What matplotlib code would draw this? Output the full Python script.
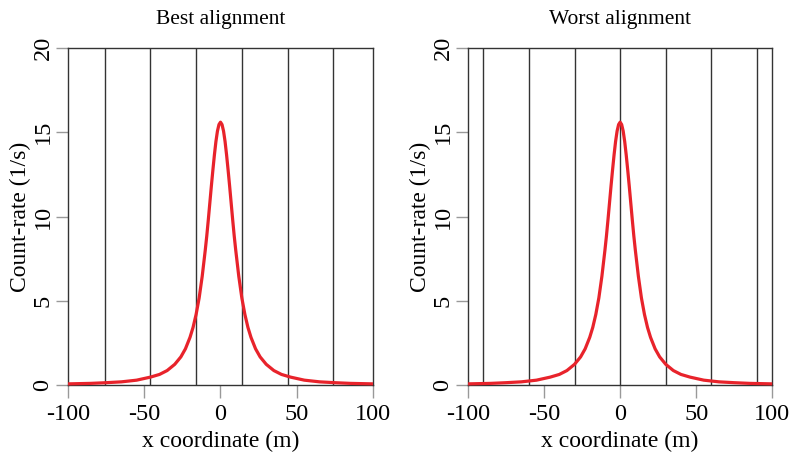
import matplotlib
matplotlib.use("Agg")
import matplotlib.pyplot as plt

# Count-rate curve (same curve in both panels)
x_coord = [-100, -85, -75, -65, -55, -46, -40, -35, -30, -26, -23, -20, -18, -16, -14,
           -12, -10, -9, -8, -7, -6, -5, -4, -3, -2, -1, 0,
           1, 2, 3, 4, 5, 6, 7, 8, 9, 10, 12, 14, 16, 18, 20, 23, 26, 30, 35, 40,
           46, 55, 65, 75, 85, 100]
count_rate = [0.07, 0.10, 0.14, 0.19, 0.29, 0.47, 0.63, 0.86, 1.23, 1.67, 2.15, 2.83, 3.42, 4.19, 5.17,
              6.45, 8.0, 8.85, 9.8, 10.8, 11.8, 12.75, 13.65, 14.45, 15.07, 15.46, 15.6,
              15.46, 15.07, 14.45, 13.65, 12.75, 11.8, 10.8, 9.8, 8.85, 8.0, 6.45, 5.17, 4.19, 3.42,
              2.83, 2.15, 1.67, 1.23, 0.86, 0.63, 0.47, 0.29, 0.19, 0.14, 0.10, 0.07]

best_lines = [-76, -46, -16, 14, 44, 74]
worst_lines = [-90, -60, -30, 0, 30, 60, 90]
titles = ["Best alignment", "Worst alignment"]
x_ticks = [-100, -50, 0, 50, 100]
y_ticks = [0, 5, 10, 15, 20]

plt.rcParams['font.family'] = ['Liberation Serif', 'DejaVu Serif']

fig = plt.figure(figsize=(7.92, 4.53), dpi=100)
axes_pos = [[0.0859, 0.150, 0.385, 0.744], [0.591, 0.150, 0.384, 0.744]]

for pos, title, lines in zip(axes_pos, titles, [best_lines, worst_lines]):
    ax = fig.add_axes(pos)
    for xl in lines:
        ax.axvline(xl, color='#333333', lw=1.0, zorder=1)
    ax.plot(x_coord, count_rate, color='#E8232B', lw=2.3, zorder=3, clip_on=False,
            solid_capstyle='butt')
    ax.set_xlim(-100, 100)
    ax.set_ylim(0, 20)
    ax.set_xticks(x_ticks)
    ax.set_yticks(y_ticks)
    ax.set_xticklabels([str(t) for t in x_ticks])
    ax.set_yticklabels([str(t) for t in y_ticks], rotation=90, va='center')
    ax.tick_params(axis='both', direction='out', length=9, width=1.0, color='#999999',
                   labelsize=17.5)
    ax.tick_params(axis='x', pad=5)
    ax.tick_params(axis='y', pad=1.5)
    for s in ax.spines.values():
        s.set_color('#333333')
        s.set_linewidth(1.0)
    ax.set_title(title, fontsize=15.5, pad=17)
    ax.set_xlabel("x coordinate (m)", fontsize=17, labelpad=4)
    ax.set_ylabel("Count-rate (1/s)", fontsize=17, labelpad=1)

fig.savefig("out.png", dpi=100)
